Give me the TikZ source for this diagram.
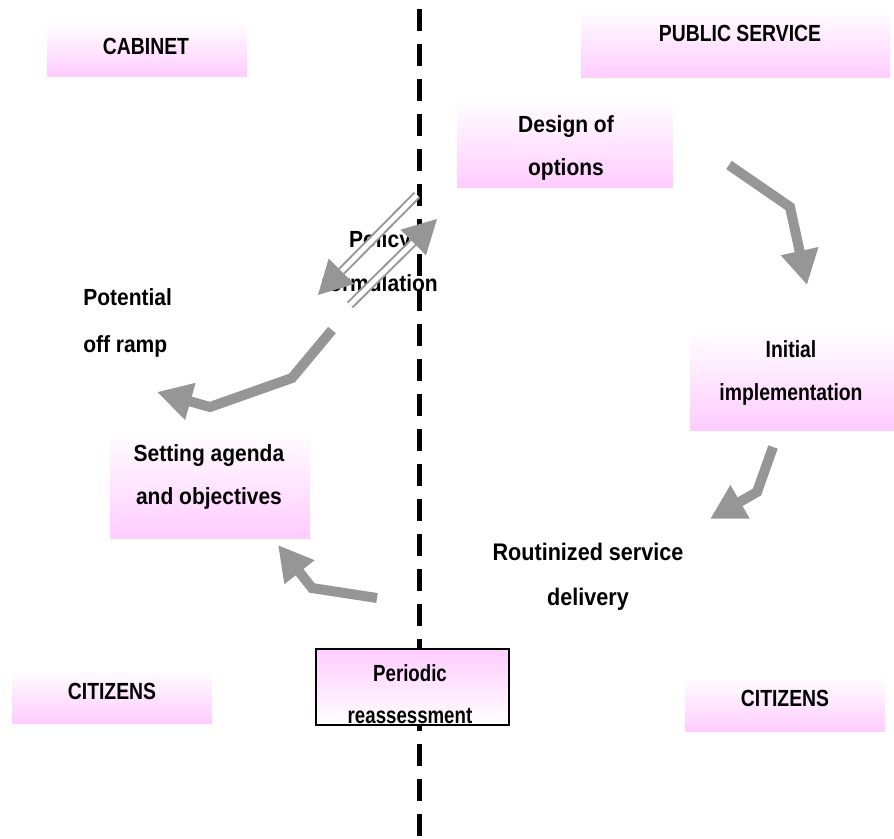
\documentclass[tikz,border=0pt]{standalone}
\usepackage{fontspec}
\setmainfont{Liberation Sans}[FakeStretch=0.9]
\newfontfamily\narrowf{Liberation Sans}[FakeStretch=0.83]
\newfontfamily\narrowerf{Liberation Sans}[FakeStretch=0.8]
\usetikzlibrary{arrows.meta,calc}
\definecolor{boxpink}{HTML}{FFCCFF}
\definecolor{arrgray}{HTML}{969696}
\begin{document}
\begin{tikzpicture}[x=0.75pt,y=-0.75pt,
  pbox/.style={shade, top color=white, bottom color=boxpink, inner sep=0pt, outer sep=0pt},
  lbl/.style={font=\fontsize{17.5}{32.5}\selectfont\bfseries, inner sep=0pt, align=center},
  nlbl/.style={lbl, font=\fontsize{17.5}{32}\selectfont\narrowf\bfseries},
  fatarrow/.style={draw=arrgray, line width=7.5pt, line join=miter, -{Triangle[length=26pt,width=27pt]}},
  dshaft/.style={draw=arrgray, line width=1.5pt, double=white, double distance=3.6pt},
  divider/.style={draw=black, line width=3.75pt, dash pattern=on 16.5pt off 9.75pt}]
\useasboundingbox (0,0) rectangle (894,839);

% divider
\coordinate (dtop) at (419,9);
\coordinate (dbot) at (419,839);
\draw[divider] (dtop) -- (dbot);

% boxes
\node[pbox, minimum width=150pt, minimum height=40.5pt] (cab) at (147,49) {};
\node[pbox, minimum width=231.75pt, minimum height=51pt] (pub) at (735.5,43) {};
\node[pbox, minimum width=162pt, minimum height=66pt] (des) at (565,143) {};
\node[pbox, minimum width=153pt, minimum height=75pt] (ini) at (792,380) {};
\node[pbox, minimum width=150pt, minimum height=81pt] (set) at (210,484) {};
\node[pbox, top color=boxpink, bottom color=white, draw=black, line width=1.1pt, minimum width=144.75pt, minimum height=57pt] (per) at (412.5,687) {};
\node[pbox, minimum width=150pt, minimum height=40.5pt] (citl) at (112,696) {};
\node[pbox, minimum width=150pt, minimum height=40.5pt] (citr) at (785,704) {};

% texts
\node[nlbl] (tcab) at (146,46) {CABINET};
\node[nlbl] (tpub) at (740,33) {PUBLIC SERVICE};
\begin{scope}
  \clip (des.south west) rectangle (des.north east);
  \node[lbl] (tdes) at (566,148) {Design of\\options};
\end{scope}
\node[nlbl] (tini) at (791,373) {Initial\\implementation};
\node[lbl] (tset) at (209,477) {Setting agenda\\and objectives};
\node[nlbl, font=\fontsize{17.5}{31.5}\selectfont\narrowerf\bfseries] (tper) at (410,694) {Periodic\\reassessment};
\node[nlbl] (tcitl) at (112,691) {CITIZENS};
\node[nlbl] (tcitr) at (785,698) {CITIZENS};
\node[lbl] (tpol) at (380,261) {Policy\\formulation};
\node[lbl, align=left, anchor=west] (toff) at (83,323) {Potential\\[3pt]off ramp};
\node[lbl, font=\fontsize{18}{34}\selectfont\bfseries] (trou) at (588,577) {Routinized service\\delivery};

% fat arrows
\coordinate (a1s) at (729,165); \coordinate (a1m) at (790,207); \coordinate (a1e) at (807,285);
\draw[fatarrow] (a1s) -- (a1m) -- (a1e);
\coordinate (a2s) at (773,447); \coordinate (a2m) at (757,492); \coordinate (a2e) at (710,519);
\draw[fatarrow] (a2s) -- (a2m) -- (a2e);
\coordinate (a3s) at (377,598); \coordinate (a3m) at (312,588); \coordinate (a3e) at (278,545);
\draw[fatarrow] (a3s) -- (a3m) -- (a3e);
\coordinate (a4s) at (332,330); \coordinate (a4m) at (292,378); \coordinate (a4n) at (210,407); \coordinate (a4e) at (157,392);
\draw[fatarrow] (a4s) -- (a4m) -- (a4n) -- (a4e);

% policy formulation double arrows
\coordinate (pAs) at (417,195); \coordinate (pAt) at (318,295);
\coordinate (pAb) at ($(pAt)!25pt!(pAs)$);
\draw[dshaft] (pAs) -- ($(pAt)!21pt!(pAs)$);
\fill[arrgray] (pAt) -- ($(pAb)!13.5pt!90:(pAt)$) -- ($(pAb)!13.5pt!-90:(pAt)$) -- cycle;
\coordinate (pBs) at (350,305); \coordinate (pBt) at (437,219);
\coordinate (pBb) at ($(pBt)!25pt!(pBs)$);
\draw[dshaft] (pBs) -- ($(pBt)!21pt!(pBs)$);
\fill[arrgray] (pBt) -- ($(pBb)!13.5pt!90:(pBt)$) -- ($(pBb)!13.5pt!-90:(pBt)$) -- cycle;
\end{tikzpicture}
\end{document}
